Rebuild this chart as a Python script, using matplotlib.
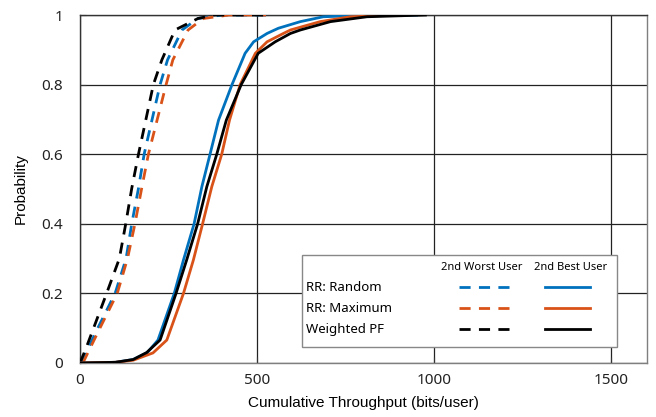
import matplotlib
matplotlib.use("Agg")
import matplotlib.pyplot as plt
from matplotlib.lines import Line2D
from matplotlib.patches import Rectangle

# ---- data ----
blue_best_x = [0, 100, 150, 190, 220, 266, 292, 322, 344, 367, 391, 429, 466, 490, 528, 560, 622, 687, 800, 950]
blue_best_y = [0, 0.002, 0.01, 0.03, 0.066, 0.2, 0.296, 0.4, 0.507, 0.6, 0.698, 0.8, 0.89, 0.923, 0.947, 0.962, 0.981, 0.995, 0.999, 1.0]

black_best_x = [0, 100, 150, 188, 226, 271, 301, 332, 358, 386, 413, 455, 503, 551, 594, 622, 707, 810, 975]
black_best_y = [0, 0.002, 0.01, 0.03, 0.066, 0.2, 0.296, 0.4, 0.507, 0.6, 0.698, 0.8, 0.89, 0.923, 0.947, 0.957, 0.981, 0.995, 1.0]

red_best_x = [0, 100, 150, 206, 245, 292, 320, 346, 372, 400, 422, 452, 495, 528, 574, 594, 678, 763, 900]
red_best_y = [0, 0.002, 0.008, 0.029, 0.066, 0.2, 0.296, 0.4, 0.507, 0.6, 0.698, 0.8, 0.89, 0.923, 0.947, 0.957, 0.981, 0.995, 1.0]

blue_worst_x = [3, 50, 99, 130, 146, 165, 181, 226, 247, 288, 333, 400, 525]
blue_worst_y = [0, 0.1, 0.2, 0.3, 0.4, 0.502, 0.6, 0.8, 0.871, 0.957, 0.99, 1.0, 1.0]

red_worst_x = [8, 56, 105, 134, 155, 174, 193, 243, 262, 305, 348, 420, 525]
red_worst_y = [0, 0.1, 0.2, 0.3, 0.4, 0.502, 0.6, 0.8, 0.871, 0.957, 0.99, 1.0, 1.0]

black_worst_x = [0, 19, 75, 111, 129, 146, 165, 207, 231, 268, 333, 380, 525]
black_worst_y = [0, 0.048, 0.2, 0.3, 0.4, 0.502, 0.6, 0.8, 0.871, 0.957, 0.99, 1.0, 1.0]

schemes = ["RR: Random", "RR: Maximum", "Weighted PF"]
col_headers = ["2nd Worst User", "2nd Best User"]
x_ticks = [0, 500, 1000, 1500]
y_ticks = [0, 0.2, 0.4, 0.6, 0.8, 1]
y_ticklabels = ["0", "0.2", "0.4", "0.6", "0.8", "1"]

BLUE = (0.0, 0.447, 0.741)
RED = (0.85, 0.325, 0.098)
BLACK = "black"
colors = [BLUE, RED, BLACK]

fig = plt.figure(figsize=(6.56, 4.17), dpi=100)
ax = fig.add_axes([0.122, 0.1295, 0.864, 0.8345])

lw = 2.0
dash = (0, (4, 3))
for xs, ys, c in [(blue_worst_x, blue_worst_y, BLUE), (red_worst_x, red_worst_y, RED),
                  (black_worst_x, black_worst_y, BLACK)]:
    ax.plot(xs, ys, color=c, lw=lw, linestyle=dash, zorder=3)
for xs, ys, c in [(blue_best_x, blue_best_y, BLUE), (red_best_x, red_best_y, RED),
                  (black_best_x, black_best_y, BLACK)]:
    ax.plot(xs, ys, color=c, lw=lw, zorder=3)

ax.set_xlim(0, 1600)
ax.set_ylim(0, 1)
ax.set_xticks(x_ticks)
ax.set_yticks(y_ticks)
ax.set_yticklabels(y_ticklabels)
ax.grid(True, color="#222222", lw=0.9)
ax.set_axisbelow(True)
for s in ax.spines.values():
    s.set_color("#7f7f7f")
    s.set_linewidth(1.0)
ax.spines["top"].set_color("#333333")
ax.spines["left"].set_color("#333333")
ax.tick_params(direction="in", length=4, colors="#333333", labelsize=11, labelcolor="#222222")
ax.tick_params(axis="y", pad=12)
ax.tick_params(axis="x", pad=7)
for lbl in ax.get_xticklabels() + ax.get_yticklabels():
    lbl.set_family("Noto Sans")
ax.set_xlabel("Cumulative Throughput (bits/user)", fontsize=11, family="Liberation Sans", labelpad=6)
ax.set_ylabel("Probability", fontsize=11, family="Liberation Sans", labelpad=10)

# ---- custom legend table ----
bx0, by0, bx1, by1 = 0.392, 0.046, 0.947, 0.31
ax.add_patch(Rectangle((bx0, by0), bx1 - bx0, by1 - by0, transform=ax.transAxes,
                       facecolor="white", edgecolor="#888888", lw=1.0, zorder=5))
hdr_y = 0.275
ax.text(0.709, hdr_y, col_headers[0], transform=ax.transAxes, ha="center", va="center",
        fontsize=8, family="Noto Sans", zorder=6)
ax.text(0.865, hdr_y, col_headers[1], transform=ax.transAxes, ha="center", va="center",
        fontsize=8, family="Noto Sans", zorder=6)
row_y = [0.217, 0.157, 0.097]
for name, c, yy in zip(schemes, colors, row_y):
    ax.text(0.398, yy, name, transform=ax.transAxes, ha="left", va="center",
            fontsize=9.5, family="Noto Sans", zorder=6)
    ax.add_line(Line2D([0.668, 0.765], [yy, yy], transform=ax.transAxes, color=c,
                       lw=lw, linestyle=dash, zorder=6))
    ax.add_line(Line2D([0.820, 0.899], [yy, yy], transform=ax.transAxes, color=c,
                       lw=lw, zorder=6))

fig.savefig("out.png", dpi=100)
